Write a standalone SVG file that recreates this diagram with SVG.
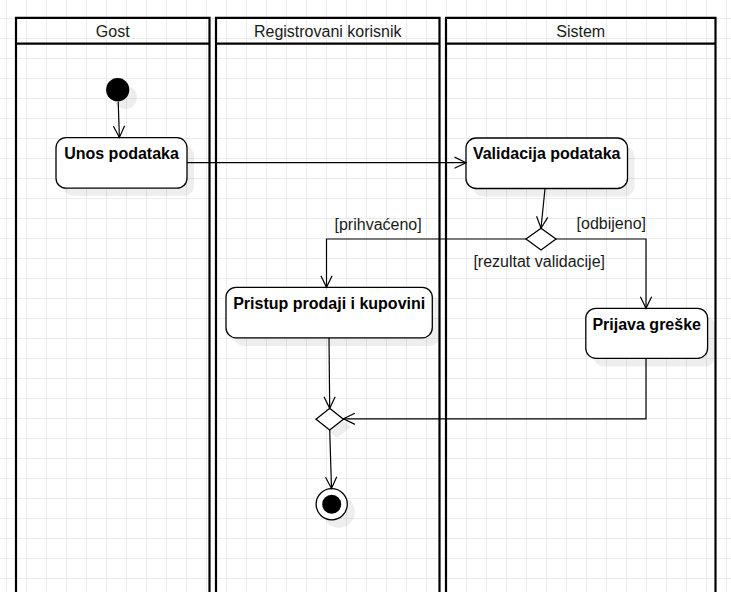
<svg xmlns="http://www.w3.org/2000/svg" width="731" height="592" viewBox="0 0 731 592">
  <style>
    .lane { fill: none; stroke: #000; stroke-width: 2.2; }
    .hdr { font-family: "Liberation Sans", Arial, sans-serif; font-size: 16px; fill: #1a1a1a; text-anchor: middle; }
    .act { fill: #fff; stroke: #000; stroke-width: 1.3; }
    .shadow { fill: #000; fill-opacity: 0.065; stroke: none; }
    .actlbl { font-family: "Liberation Sans", Arial, sans-serif; font-size: 16px; font-weight: bold; fill: #000; text-anchor: middle; }
    .edge { fill: none; stroke: #000; stroke-width: 1.2; }
    .guard { font-family: "Liberation Sans", Arial, sans-serif; font-size: 16px; fill: #1a1a1a; }
  </style>
  <defs>
    <pattern id="grid" patternUnits="userSpaceOnUse" x="6" y="18" width="20" height="20">
      <path d="M0.5,0 V20 M0,0.5 H20" fill="none" stroke="#ececec" stroke-width="1"/>
    </pattern>
    <marker id="open" markerUnits="userSpaceOnUse" markerWidth="16" markerHeight="16" viewBox="0 0 16 16" refX="13" refY="8" orient="auto">
      <path d="M1.5,2.4 L13,8 L1.5,13.6" fill="none" stroke="#000" stroke-width="1.2"/>
    </marker>
  </defs>

  <rect x="0" y="0" width="731" height="592" fill="#fff"/>
  <rect x="0" y="0" width="731" height="592" fill="url(#grid)"/>

  <g id="lane-gost">
    <path class="lane" d="M16,620 V17.8 H209.5 V620 M16,43.6 H209.5"/>
    <text class="hdr" x="112.75" y="36.5">Gost</text>
  </g>
  <g id="lane-registrovani">
    <path class="lane" d="M216,620 V17.8 H439.5 V620 M216,43.6 H439.5"/>
    <text class="hdr" x="327.75" y="36.5">Registrovani korisnik</text>
  </g>
  <g id="lane-sistem">
    <path class="lane" d="M446,620 V17.8 H715.5 V620 M446,43.6 H715.5"/>
    <text class="hdr" x="580.75" y="36.5">Sistem</text>
  </g>

  <g id="node-start">
    <circle class="shadow" cx="125.5" cy="97.5" r="11.6"/>
    <circle cx="117.7" cy="89.7" r="11.6" fill="#000"/>
  </g>

  <g id="node-unos">
    <rect class="shadow" x="63" y="145.5" width="131" height="50.5" rx="10"/>
    <rect class="act" x="56" y="137.7" width="131" height="50.5" rx="10"/>
    <text class="actlbl" x="121.5" y="158.5">Unos podataka</text>
  </g>

  <g id="node-validacija">
    <rect class="shadow" x="473" y="146" width="161.5" height="50.5" rx="10"/>
    <rect class="act" x="466" y="138" width="161.5" height="50.5" rx="10"/>
    <text class="actlbl" x="546.7" y="159">Validacija podataka</text>
  </g>

  <g id="node-decision">
    <path class="act" d="M541,228.2 L556,239 L541,250 L526,239 Z"/>
  </g>

  <g id="node-pristup">
    <rect class="shadow" x="233.5" y="295.5" width="206.3" height="50.5" rx="10"/>
    <rect class="act" x="226" y="287.3" width="206.3" height="50.5" rx="10"/>
    <text class="actlbl" x="329.2" y="308.5">Pristup prodaji i kupovini</text>
  </g>

  <g id="node-prijava">
    <rect class="shadow" x="593.5" y="316.5" width="121.8" height="50" rx="10"/>
    <rect class="act" x="585.8" y="308.3" width="121.8" height="50" rx="10"/>
    <text class="actlbl" x="646.7" y="329.5">Prijava greške</text>
  </g>

  <g id="node-merge">
    <path class="shadow" d="M337,416 L351,427 L337,438 L323,427 Z"/>
    <path class="act" d="M329.7,408.3 L343.4,419.2 L329.7,430 L316,419.2 Z"/>
  </g>

  <g id="node-end">
    <circle class="shadow" cx="339" cy="512" r="15.8"/>
    <circle cx="331.7" cy="504.2" r="15.6" fill="#fff" stroke="#000" stroke-width="1.3"/>
    <circle cx="331.7" cy="504.2" r="9.5" fill="#000"/>
  </g>

  <g id="connectors">
    <path class="edge" d="M118.2,101.5 L119.4,137.5" marker-end="url(#open)"/>
    <path class="edge" d="M187,162.7 L466,162.7" marker-end="url(#open)"/>
    <path class="edge" d="M545,188.5 L541,228.2" marker-end="url(#open)"/>
    <path class="edge" d="M526,239 L326.5,239 L326.5,287.3" marker-end="url(#open)"/>
    <path class="edge" d="M556,239 L646,239 L646,308.3" marker-end="url(#open)"/>
    <path class="edge" d="M329,337.8 L329.7,408.3" marker-end="url(#open)"/>
    <path class="edge" d="M646,358.3 L646,418.8 L343.4,418.8" marker-end="url(#open)"/>
    <path class="edge" d="M329.7,430 L331.5,488.5" marker-end="url(#open)"/>
    <text class="guard" x="421.7" y="229.5" text-anchor="end">[prihvaćeno]</text>
    <text class="guard" x="646" y="228.5" text-anchor="end">[odbijeno]</text>
    <text class="guard" x="539.2" y="267" text-anchor="middle">[rezultat validacije]</text>
  </g>
</svg>
